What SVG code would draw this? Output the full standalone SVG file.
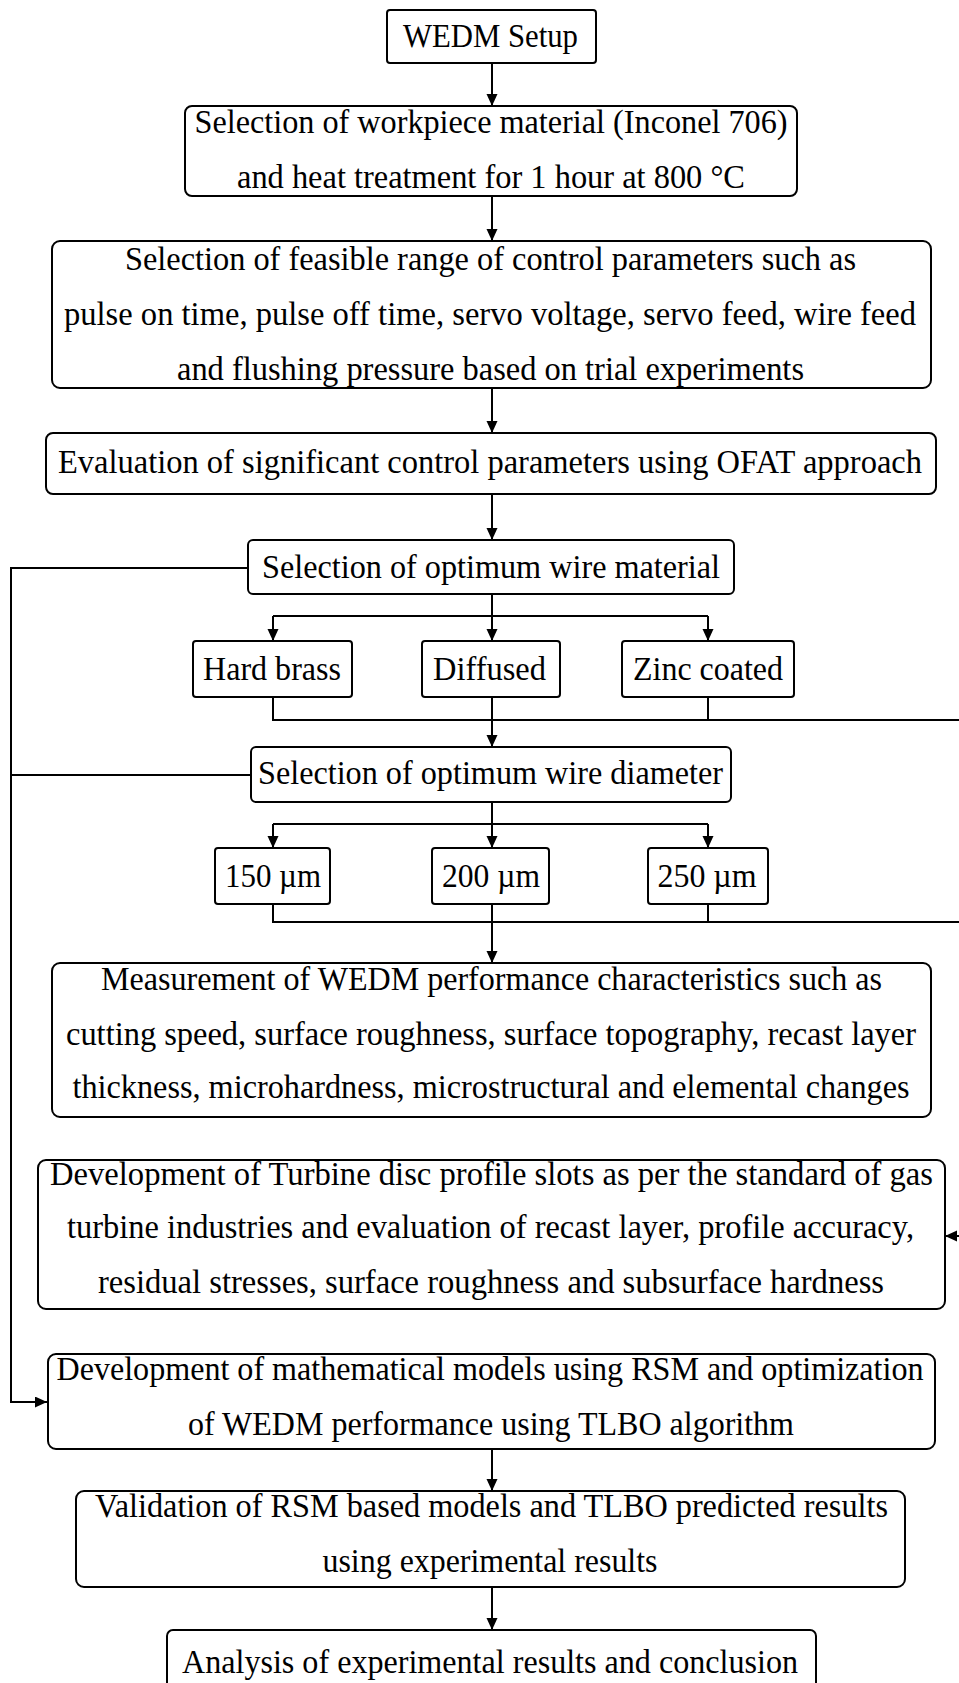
<svg xmlns="http://www.w3.org/2000/svg" width="959" height="1683" viewBox="0 0 959 1683">
<style>
.box{fill:#fff;stroke:#000;stroke-width:2}
.t{font-family:"Liberation Serif","Times New Roman",serif;font-size:33px;fill:#000;text-anchor:middle}
.c{fill:none;stroke:#000;stroke-width:2}
</style>
<defs>
<marker id="ah" markerUnits="userSpaceOnUse" markerWidth="14" markerHeight="12" refX="12" refY="5.5" orient="auto">
<path d="M0,0 L12,5.5 L0,11 z" fill="#000"/>
</marker>
</defs>
<rect width="959" height="1683" fill="#fff"/>
<g id="connectors">
<path class="c" d="M492,63 V106" marker-end="url(#ah)"/>
<path class="c" d="M492,196 V241" marker-end="url(#ah)"/>
<path class="c" d="M492,388 V433" marker-end="url(#ah)"/>
<path class="c" d="M492,494 V540" marker-end="url(#ah)"/>
<path class="c" d="M248,568 H11 V1402 H47" marker-end="url(#ah)"/>
<path class="c" d="M251,775 H11"/>
<path class="c" d="M492,594 V616 M273,616 H708"/>
<path class="c" d="M273,616 V641" marker-end="url(#ah)"/>
<path class="c" d="M492,616 V641" marker-end="url(#ah)"/>
<path class="c" d="M708,616 V641" marker-end="url(#ah)"/>
<path class="c" d="M273,697 V720 H962 M708,697 V720"/>
<path class="c" d="M492,697 V747" marker-end="url(#ah)"/>
<path class="c" d="M492,802 V824 M273,824 H708"/>
<path class="c" d="M273,824 V848" marker-end="url(#ah)"/>
<path class="c" d="M492,824 V848" marker-end="url(#ah)"/>
<path class="c" d="M708,824 V848" marker-end="url(#ah)"/>
<path class="c" d="M273,904 V922 H962 M708,904 V922"/>
<path class="c" d="M492,904 V963" marker-end="url(#ah)"/>
<path class="c" d="M962,720 V1236 H945" marker-end="url(#ah)"/>
<path class="c" d="M492,1449 V1491" marker-end="url(#ah)"/>
<path class="c" d="M492,1587 V1630" marker-end="url(#ah)"/>
</g>
<g id="n1"><rect class="box" x="387" y="10" width="209" height="53" rx="3"/>
<text class="t" x="490.5" y="47" textLength="175" lengthAdjust="spacingAndGlyphs">WEDM Setup</text></g>
<g id="n2"><rect class="box" x="185" y="106" width="612" height="90" rx="7"/>
<text class="t" x="491" y="133" textLength="593" lengthAdjust="spacingAndGlyphs">Selection of workpiece material (Inconel 706)</text>
<text class="t" x="491" y="188" textLength="508" lengthAdjust="spacingAndGlyphs">and heat treatment for 1 hour at 800 °C</text></g>
<g id="n3"><rect class="box" x="52" y="241" width="879" height="147" rx="8"/>
<text class="t" x="490.5" y="270" textLength="731" lengthAdjust="spacingAndGlyphs">Selection of feasible range of control parameters such as</text>
<text class="t" x="490" y="325" textLength="852" lengthAdjust="spacingAndGlyphs">pulse on time, pulse off time, servo voltage, servo feed, wire feed</text>
<text class="t" x="490.5" y="380" textLength="627" lengthAdjust="spacingAndGlyphs">and flushing pressure based on trial experiments</text></g>
<g id="n4"><rect class="box" x="46" y="433" width="890" height="61" rx="7"/>
<text class="t" x="490" y="473" textLength="864" lengthAdjust="spacingAndGlyphs">Evaluation of significant control parameters using OFAT approach</text></g>
<g id="n5"><rect class="box" x="248" y="540" width="486" height="54" rx="5"/>
<text class="t" x="491" y="578" textLength="458" lengthAdjust="spacingAndGlyphs">Selection of optimum wire material</text></g>
<g id="n6"><rect class="box" x="193" y="641" width="159" height="56" rx="3"/>
<text class="t" x="272" y="680" textLength="138" lengthAdjust="spacingAndGlyphs">Hard brass</text></g>
<g id="n7"><rect class="box" x="422" y="641" width="138" height="56" rx="3"/>
<text class="t" x="489.5" y="680" textLength="113" lengthAdjust="spacingAndGlyphs">Diffused</text></g>
<g id="n8"><rect class="box" x="622" y="641" width="172" height="56" rx="3"/>
<text class="t" x="708" y="680" textLength="150" lengthAdjust="spacingAndGlyphs">Zinc coated</text></g>
<g id="n9"><rect class="box" x="251" y="747" width="480" height="55" rx="5"/>
<text class="t" x="490.5" y="784" textLength="465" lengthAdjust="spacingAndGlyphs">Selection of optimum wire diameter</text></g>
<g id="n10"><rect class="box" x="215" y="848" width="115" height="56" rx="3"/>
<text class="t" x="273" y="887" textLength="96" lengthAdjust="spacingAndGlyphs">150 µm</text></g>
<g id="n11"><rect class="box" x="432" y="848" width="117" height="56" rx="3"/>
<text class="t" x="491" y="887" textLength="98" lengthAdjust="spacingAndGlyphs">200 µm</text></g>
<g id="n12"><rect class="box" x="648" y="848" width="120" height="56" rx="3"/>
<text class="t" x="707" y="887" textLength="99" lengthAdjust="spacingAndGlyphs">250 µm</text></g>
<g id="n13"><rect class="box" x="52" y="963" width="879" height="154" rx="8"/>
<text class="t" x="491.5" y="990" textLength="781" lengthAdjust="spacingAndGlyphs">Measurement of WEDM performance characteristics such as</text>
<text class="t" x="491" y="1045" textLength="850" lengthAdjust="spacingAndGlyphs">cutting speed, surface roughness, surface topography, recast layer</text>
<text class="t" x="491" y="1098" textLength="837" lengthAdjust="spacingAndGlyphs">thickness, microhardness, microstructural and elemental changes</text></g>
<g id="n14"><rect class="box" x="38" y="1160" width="907" height="149" rx="8"/>
<text class="t" x="491.5" y="1185" textLength="883" lengthAdjust="spacingAndGlyphs">Development of Turbine disc profile slots as per the standard of gas</text>
<text class="t" x="490.5" y="1238" textLength="847" lengthAdjust="spacingAndGlyphs">turbine industries and evaluation of recast layer, profile accuracy,</text>
<text class="t" x="491" y="1293" textLength="786" lengthAdjust="spacingAndGlyphs">residual stresses, surface roughness and subsurface hardness</text></g>
<g id="n15"><rect class="box" x="48" y="1354" width="887" height="95" rx="8"/>
<text class="t" x="490" y="1380" textLength="867" lengthAdjust="spacingAndGlyphs">Development of mathematical models using RSM and optimization</text>
<text class="t" x="491" y="1435" textLength="606" lengthAdjust="spacingAndGlyphs">of WEDM performance using TLBO algorithm</text></g>
<g id="n16"><rect class="box" x="76" y="1491" width="829" height="96" rx="8"/>
<text class="t" x="491.5" y="1517" textLength="793" lengthAdjust="spacingAndGlyphs">Validation of RSM based models and TLBO predicted results</text>
<text class="t" x="490" y="1572" textLength="335" lengthAdjust="spacingAndGlyphs">using experimental results</text></g>
<g id="n17"><rect class="box" x="167" y="1630" width="649" height="70" rx="6"/>
<text class="t" x="490" y="1673" textLength="616" lengthAdjust="spacingAndGlyphs">Analysis of experimental results and conclusion</text></g>
</svg>
